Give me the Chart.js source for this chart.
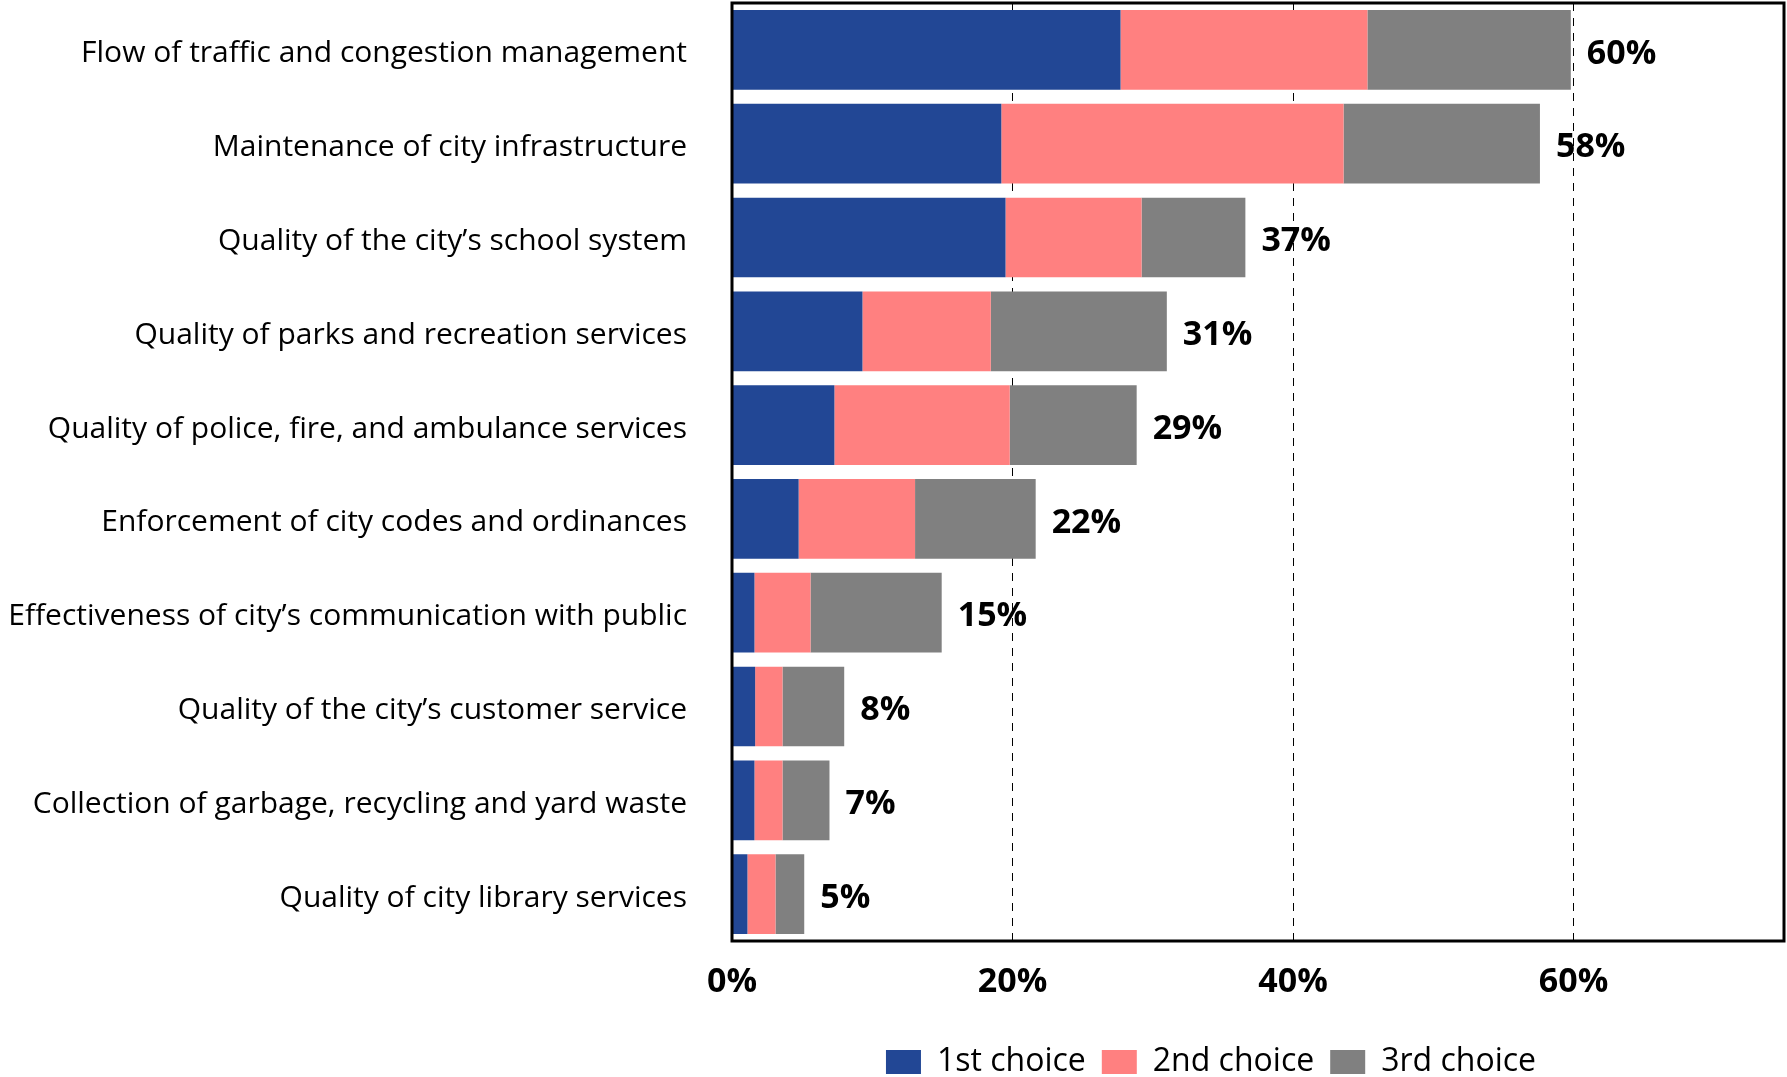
<!DOCTYPE html>
<html>
<head>
<meta charset="utf-8">
<script src="https://cdn.jsdelivr.net/npm/chart.js@4.4.1/dist/chart.umd.min.js"></script>
<style>
    html, body { margin: 0; padding: 0; background: #fff; overflow: hidden; }
    #chartContainer { width: 1787px; height: 1077px; position: relative; }
</style>
</head>
<body>
<div id="chartContainer">
    <canvas id="priorityChart"></canvas>
</div>
<script>
const categories = [
    'Flow of traffic and congestion management',
    'Maintenance of city infrastructure',
    'Quality of the city’s school system',
    'Quality of parks and recreation services',
    'Quality of police, fire, and ambulance services',
    'Enforcement of city codes and ordinances',
    'Effectiveness of city’s communication with public',
    'Quality of the city’s customer service',
    'Collection of garbage, recycling and yard waste',
    'Quality of city library services'
];
const firstChoice = [27.7, 19.2, 19.5, 9.3, 7.3, 4.75, 1.6, 1.65, 1.6, 1.1];
const secondChoice = [17.6, 24.4, 9.7, 9.15, 12.5, 8.3, 4.0, 1.95, 2.0, 2.0];
const thirdChoice = [14.5, 14.0, 7.4, 12.55, 9.05, 8.6, 9.35, 4.4, 3.35, 2.05];
const totalLabels = ['60%', '58%', '37%', '31%', '29%', '22%', '15%', '8%', '7%', '5%'];
const seriesNames = ['1st choice', '2nd choice', '3rd choice'];

const fontFamily = '"Open Sans", "Noto Sans", sans-serif';

// totals written just past the end of each stacked bar
const totalsPlugin = {
    id: 'totals',
    afterDatasetsDraw(chart) {
        const ctx = chart.ctx;
        const meta = chart.getDatasetMeta(chart.data.datasets.length - 1);
        ctx.save();
        ctx.font = `bold 34px ${fontFamily}`;
        ctx.fillStyle = '#000';
        ctx.textAlign = 'left';
        ctx.textBaseline = 'middle';
        meta.data.forEach((bar, i) => {
            ctx.fillText(totalLabels[i], bar.x + 16, bar.y + 4);
        });
        ctx.restore();
    }
};

// black frame round the plot area
const framePlugin = {
    id: 'frame',
    afterDraw(chart) {
        const {ctx, chartArea} = chart;
        ctx.save();
        ctx.strokeStyle = '#000';
        ctx.lineWidth = 3;
        ctx.strokeRect(chartArea.left, chartArea.top,
            chartArea.right - chartArea.left, chartArea.bottom - chartArea.top);
        ctx.restore();
    }
};

// move the legend under the bars like the original
const legendShift = {
    id: 'legendShift',
    afterLayout(chart) {
        const lg = chart.legend;
        if (!lg) return;
        lg.left += 319;
        lg.right += 319;
        lg.top += 11;
        lg.bottom += 11;
    }
};

const ctx = document.getElementById('priorityChart').getContext('2d');
const chart = new Chart(ctx, {
    type: 'bar',
    data: {
        labels: categories,
        datasets: [
            { label: seriesNames[0], data: firstChoice, backgroundColor: '#224795' },
            { label: seriesNames[1], data: secondChoice, backgroundColor: '#FF8080' },
            { label: seriesNames[2], data: thirdChoice, backgroundColor: '#808080' }
        ]
    },
    options: {
        indexAxis: 'y',
        responsive: true,
        maintainAspectRatio: false,
        animation: false,
        categoryPercentage: 0.85,
        barPercentage: 1,
        borderWidth: 0,
        layout: { padding: { top: 3, right: 3, bottom: 0, left: 0 } },
        scales: {
            x: {
                stacked: true,
                min: 0,
                max: 75,
                afterFit: (s) => { s.height = 78; },
                grid: { color: '#000', lineWidth: 1, drawTicks: false },
                border: { display: false, dash: [8, 7] },
                ticks: {
                    stepSize: 20,
                    includeBounds: false,
                    padding: 21,
                    color: '#000',
                    font: { family: fontFamily, size: 34, weight: 'bold' },
                    callback: (v) => v + '%'
                }
            },
            y: {
                stacked: true,
                afterFit: (s) => {
                    s.width = 732;
                    s.paddingTop = 0;
                    s.paddingBottom = 0;
                },
                grid: { display: false, drawTicks: false },
                border: { display: false },
                ticks: {
                    padding: 45,
                    labelOffset: 4,
                    color: '#000',
                    font: { family: fontFamily, size: 30 }
                }
            }
        },
        plugins: {
            legend: {
                position: 'bottom',
                labels: {
                    boxWidth: 35,
                    boxHeight: 24,
                    padding: 16,
                    color: '#000',
                    font: { family: fontFamily, size: 32 }
                }
            },
            tooltip: { enabled: false }
        }
    },
    plugins: [totalsPlugin, framePlugin, legendShift]
});
</script>
</body>
</html>
